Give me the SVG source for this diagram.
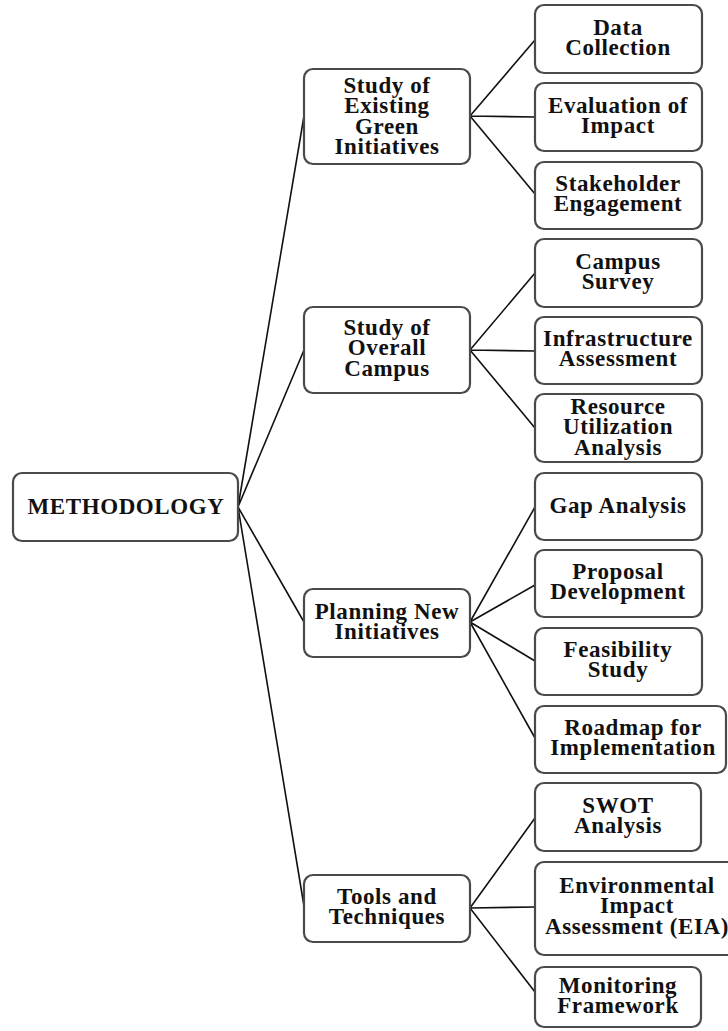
<svg xmlns="http://www.w3.org/2000/svg" width="728" height="1031" viewBox="0 0 728 1031">
<style>
.box{fill:#fff;stroke:#4a4a4a;stroke-width:2.2}
.t{font-family:"Liberation Serif","Times New Roman",serif;font-weight:bold;font-size:23px;letter-spacing:0.6px;fill:#111;text-anchor:middle}
.c{stroke:#111;stroke-width:1.6;fill:none}
</style>
<rect width="728" height="1031" fill="#fff"/>
<g id="connectors">
<path class="c" d="M238 507L304 116M238 507L304 350M238 507L304 622M238 507L304 906"/>
<path class="c" d="M470 116L535 40M470 116L535 117M470 116L535 194"/>
<path class="c" d="M470 350L535 273M470 350L535 351M470 350L535 428"/>
<path class="c" d="M470 622L535 507M470 622L535 585M470 622L535 661M470 622L535 738"/>
<path class="c" d="M470 908L535 818M470 908L535 907M470 908L535 992"/>
</g>
<g id="methodology"><rect class="box" x="13" y="473" width="225" height="68" rx="9"/><text class="t" x="126" y="514">METHODOLOGY</text></g>
<g id="existing"><rect class="box" x="304" y="69" width="166" height="95" rx="9"/><text class="t" x="387" y="93">Study of<tspan x="387" dy="20.3">Existing</tspan><tspan x="387" dy="20.3">Green</tspan><tspan x="387" dy="20.3">Initiatives</tspan></text></g>
<g id="overall"><rect class="box" x="304" y="307" width="166" height="86" rx="9"/><text class="t" x="387" y="335">Study of<tspan x="387" dy="20.3">Overall</tspan><tspan x="387" dy="20.3">Campus</tspan></text></g>
<g id="planning"><rect class="box" x="304" y="589" width="166" height="68" rx="9"/><text class="t" x="387" y="619">Planning New<tspan x="387" dy="20.3">Initiatives</tspan></text></g>
<g id="tools"><rect class="box" x="304" y="875" width="166" height="67" rx="9"/><text class="t" x="387" y="904">Tools and<tspan x="387" dy="20.3">Techniques</tspan></text></g>
<g id="data"><rect class="box" x="535" y="5" width="167" height="68" rx="9"/><text class="t" x="618" y="35">Data<tspan x="618" dy="20.3">Collection</tspan></text></g>
<g id="evaluation"><rect class="box" x="535" y="83" width="167" height="68" rx="9"/><text class="t" x="618" y="113">Evaluation of<tspan x="618" dy="20.3">Impact</tspan></text></g>
<g id="stakeholder"><rect class="box" x="535" y="162" width="167" height="67" rx="9"/><text class="t" x="618" y="191">Stakeholder<tspan x="618" dy="20.3">Engagement</tspan></text></g>
<g id="survey"><rect class="box" x="535" y="239" width="167" height="68" rx="9"/><text class="t" x="618" y="269">Campus<tspan x="618" dy="20.3">Survey</tspan></text></g>
<g id="infra"><rect class="box" x="535" y="317" width="167" height="67" rx="9"/><text class="t" x="618" y="346">Infrastructure<tspan x="618" dy="20.3">Assessment</tspan></text></g>
<g id="resource"><rect class="box" x="535" y="394" width="167" height="68" rx="9"/><text class="t" x="618" y="414">Resource<tspan x="618" dy="20.3">Utilization</tspan><tspan x="618" dy="20.3">Analysis</tspan></text></g>
<g id="gap"><rect class="box" x="535" y="473" width="167" height="67" rx="9"/><text class="t" x="618" y="513">Gap Analysis</text></g>
<g id="proposal"><rect class="box" x="535" y="550" width="167" height="67" rx="9"/><text class="t" x="618" y="579">Proposal<tspan x="618" dy="20.3">Development</tspan></text></g>
<g id="feasibility"><rect class="box" x="535" y="628" width="167" height="67" rx="9"/><text class="t" x="618" y="657">Feasibility<tspan x="618" dy="20.3">Study</tspan></text></g>
<g id="roadmap"><rect class="box" x="535" y="706" width="191" height="67" rx="9"/><text class="t" x="633" y="735">Roadmap for<tspan x="633" dy="20.3">Implementation</tspan></text></g>
<g id="swot"><rect class="box" x="535" y="783" width="166" height="68" rx="9"/><text class="t" x="618" y="813">SWOT<tspan x="618" dy="20.3">Analysis</tspan></text></g>
<g id="eia"><rect class="box" x="535" y="862" width="205" height="93" rx="9"/><text class="t" x="637" y="893">Environmental<tspan x="637" dy="20.3">Impact</tspan><tspan x="637" dy="20.3">Assessment (EIA)</tspan></text></g>
<g id="monitoring"><rect class="box" x="535" y="967" width="166" height="60" rx="9"/><text class="t" x="618" y="993">Monitoring<tspan x="618" dy="20.3">Framework</tspan></text></g>
</svg>
